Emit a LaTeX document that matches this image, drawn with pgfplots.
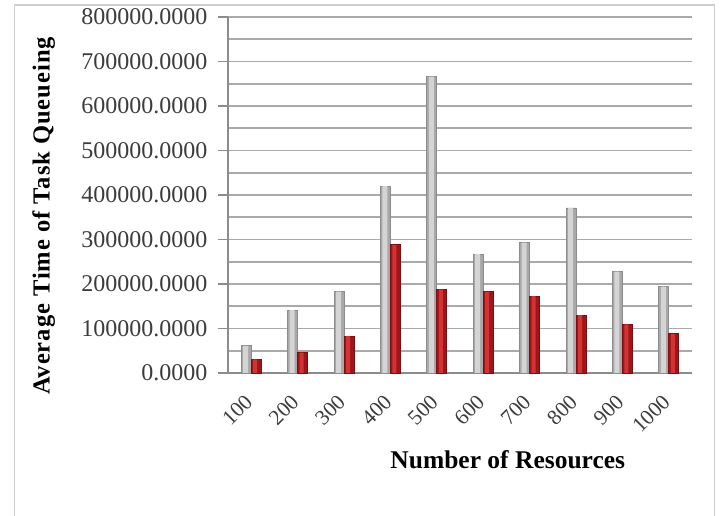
\documentclass[border=0pt]{standalone}
\usepackage{fontspec}
\setmainfont{Liberation Serif}
\usepackage{pgfplots}
\pgfplotsset{compat=1.18}

\definecolor{gridgray}{RGB}{170,170,170}
\definecolor{axisgray}{RGB}{140,140,140}
\definecolor{framegray}{RGB}{205,205,205}
\definecolor{ticktext}{RGB}{60,60,60}
\definecolor{greyBody}{RGB}{168,168,168}
\definecolor{greyEdge}{RGB}{140,140,140}
\definecolor{greyLight}{RGB}{212,212,212}
\definecolor{redBody}{RGB}{160,22,24}
\definecolor{redEdge}{RGB}{125,15,18}
\definecolor{redLight}{RGB}{210,52,52}

\pgfplotstableread{
x  grey    red
0  61000   30600
1  141500  45600
2  183000  83000
3  420000  288000
4  666000  188000
5  267000  183000
6  293000  173000
7  371000  130000
8  228000  109000
9  194000  88000
}\queueing

\begin{document}
\begin{tikzpicture}[x=1pt,y=1pt]
\useasboundingbox (0,0) rectangle (721,516);
% outer chart frame (open at the bottom)
\draw[framegray, line width=1.5pt] (14.5,0) -- (14.5,511) -- (714.5,511) -- (714.5,0);
\begin{axis}[
  at={(228pt,143pt)}, anchor=south west,
  scale only axis, width=464pt, height=356pt,
  ymin=0, ymax=800000,
  xmin=-0.5, xmax=9.5,
  axis x line*=bottom, axis y line*=left,
  axis line style={axisgray, line width=1.5pt},
  ytick distance=100000,
  minor y tick num=1,
  ymajorgrids, yminorgrids,
  major grid style={gridgray, line width=1.7pt},
  minor grid style={gridgray, line width=1.7pt},
  tick align=outside,
  major tick length=10pt, minor tick length=0pt,
  ytick style={axisgray, line width=1.5pt},
  xtick={0,...,9},
  xticklabels={100,200,300,400,500,600,700,800,900,1000},
  xtick style={draw=none},
  scaled y ticks=false,
  /pgf/number format/fixed,
  /pgf/number format/fixed zerofill,
  /pgf/number format/precision=4,
  /pgf/number format/1000 sep={},
  /pgf/number format/assume math mode=true,
  yticklabel style={font=\fontsize{24}{26}\selectfont, text=ticktext, xshift=-7pt},
  xticklabel style={font=\fontsize{21.5}{24}\selectfont, text=ticktext,
    yshift=-13pt, rotate=45, anchor=east},
  ylabel={Average Time of Task Queueing},
  ylabel style={font=\fontsize{24.5}{28}\bfseries\addfontfeature{LetterSpace=4}\selectfont, text=black},
  every axis y label/.append style={at={(axis description cs:-0.397,0.441)}, anchor=center},
  xlabel={Number of Resources},
  xlabel style={font=\fontsize{25.5}{28}\bfseries\selectfont, text=black},
  every axis x label/.append style={at={(axis description cs:0.603,-0.244)}, anchor=center},
  clip=false,
]
% grey cylinders: body plus a lighter highlight strip
\addplot[ybar, bar width=10pt, bar shift=-5pt, fill=greyBody, draw=greyEdge, line width=0.8pt]
  table[x=x, y=grey] {\queueing};
\addplot[ybar, bar width=5pt, bar shift=-5.5pt, fill=greyLight, draw=none]
  table[x=x, y=grey] {\queueing};
% red cylinders
\addplot[ybar, bar width=10pt, bar shift=5pt, fill=redBody, draw=redEdge, line width=0.8pt]
  table[x=x, y=red] {\queueing};
\addplot[ybar, bar width=4pt, bar shift=4pt, fill=redLight, draw=none]
  table[x=x, y=red] {\queueing};
\end{axis}
\end{tikzpicture}
\end{document}
